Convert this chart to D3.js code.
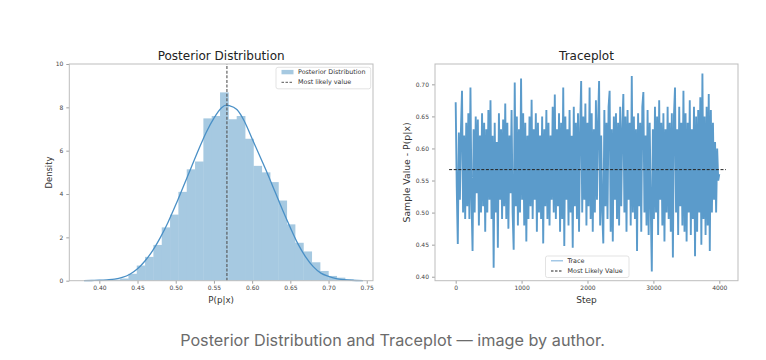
<!DOCTYPE html>
<html><head><meta charset="utf-8">
<script src="https://cdn.jsdelivr.net/npm/d3@7"></script>
<style>
body{margin:0;background:#fff;}
svg{display:block;font-family:"DejaVu Sans",sans-serif;}
</style>
</head><body>
<svg id="c" width="766" height="360"></svg>
<script>
// ---------- DATA ----------
const histBinStart = 0.3836;
const histBinWidth = 0.0109;
const histDensity = [0.02,0.02,0.03,0.05,0.10,0.32,0.70,1.10,1.65,2.46,3.05,4.10,5.14,5.50,7.49,7.60,8.69,
  7.45,7.60,6.55,5.30,5.00,4.55,3.70,2.60,1.75,1.35,0.85,0.45,0.22,0.14,0.06,0.03];
const kdeX = [0.380,0.390,0.400,0.410,0.420,0.430,0.440,0.450,0.460,0.470,0.480,0.490,0.500,0.510,0.520,0.530,
  0.540,0.550,0.560,0.566,0.570,0.580,0.590,0.600,0.610,0.620,0.630,0.640,0.650,0.660,0.670,0.680,0.690,0.700,
  0.710,0.720,0.730,0.745];
const kdeY = [0.00,0.01,0.02,0.04,0.07,0.15,0.30,0.55,0.92,1.40,2.00,2.70,3.50,4.35,5.20,6.05,
  6.85,7.50,7.98,8.10,8.08,7.90,7.35,6.55,5.75,4.95,4.10,3.25,2.45,1.70,1.10,0.65,0.35,0.20,
  0.10,0.05,0.02,0.00];
const modeValue = 0.567;
const traceStep = 16;
const traceValues = [
0.672,0.54,0.451,0.625,0.52,0.63,0.690,0.50,0.62,0.49,
0.64,0.51,0.655,0.49,0.695,0.52,0.440,0.63,0.50,0.65,
0.53,0.645,0.48,0.62,0.50,0.655,0.51,0.64,0.47,0.63,
0.50,0.66,0.52,0.675,0.49,0.62,0.414,0.64,0.50,0.61,
0.445,0.655,0.52,0.63,0.49,0.645,0.51,0.670,0.49,0.64,
0.475,0.62,0.53,0.66,0.50,0.442,0.703,0.51,0.65,0.48,
0.63,0.50,0.709,0.52,0.655,0.48,0.64,0.455,0.62,0.49,
0.65,0.51,0.676,0.49,0.63,0.52,0.655,0.47,0.64,0.50,
0.62,0.49,0.65,0.452,0.63,0.51,0.66,0.49,0.64,0.48,
0.62,0.52,0.665,0.50,0.684,0.49,0.63,0.51,0.655,0.47,
0.64,0.49,0.695,0.448,0.65,0.52,0.63,0.48,0.66,0.50,
0.62,0.445,0.665,0.51,0.64,0.49,0.655,0.47,0.63,0.705,
0.50,0.65,0.52,0.67,0.48,0.64,0.51,0.695,0.49,0.655,
0.47,0.63,0.50,0.675,0.52,0.64,0.705,0.48,0.62,0.50,
0.452,0.66,0.51,0.64,0.49,0.665,0.690,0.47,0.63,0.455,
0.65,0.52,0.655,0.49,0.64,0.48,0.665,0.51,0.63,0.685,
0.50,0.65,0.47,0.66,0.52,0.64,0.48,0.713,0.50,0.65,
0.49,0.63,0.440,0.655,0.51,0.64,0.47,0.665,0.688,0.50,
0.62,0.48,0.66,0.465,0.64,0.51,0.408,0.63,0.49,0.665,
0.50,0.65,0.465,0.675,0.52,0.64,0.48,0.655,0.455,0.63,
0.50,0.665,0.49,0.64,0.47,0.655,0.430,0.65,0.695,0.50,
0.63,0.465,0.665,0.51,0.64,0.48,0.690,0.47,0.655,0.455,
0.64,0.50,0.675,0.465,0.63,0.49,0.665,0.432,0.65,0.47,
0.66,0.50,0.68,0.45,0.717,0.49,0.65,0.465,0.665,0.48,
0.685,0.440,0.66,0.50,0.64,0.52,0.61,0.50,0.60,0.55,
0.56];
const hlineSteps = [-100, 4100];
const leftXTicks = [0.40,0.45,0.50,0.55,0.60,0.65,0.70,0.75];
const leftYTicks = [0,2,4,6,8,10];
const rightXTicks = [0,1000,2000,3000,4000];
const rightYTicks = [0.40,0.45,0.50,0.55,0.60,0.65,0.70];
const titles = ["Posterior Distribution","Traceplot"];
const xLabels = ["P(p|x)","Step"];
const yLabels = ["Density","Sample Value - P(p|x)"];
const legendLeft = ["Posterior Distribution","Most likely value"];
const legendRight = ["Trace","Most Likely Value"];
const caption = "Posterior Distribution and Traceplot \u2014 image by author.";

// ---------- DRAW ----------
const svg = d3.select("#c");
const C0 = "#1f77b4";
const histFill = "#a6c9e1";
const txt = "#333", tickTxt = "#444", frameCol = "#bdbdbd";

function frameAxes(x, y, xt, yt, xf, yf){
  const [x0,x1] = x.range(), [y1,y0] = y.range();
  const g = svg.append("g");
  const ax = g.append("g").attr("transform",`translate(0,${y1})`)
    .call(d3.axisBottom(x).tickValues(xt).tickSize(3).tickPadding(2).tickFormat(xf));
  const ay = g.append("g").attr("transform",`translate(${x0},0)`)
    .call(d3.axisLeft(y).tickValues(yt).tickSize(3).tickPadding(3).tickFormat(yf));
  [ax,ay].forEach(a=>{
    a.select(".domain").remove();
    a.selectAll("line").attr("stroke","#888").attr("stroke-width",0.8);
    a.selectAll("text").attr("fill",tickTxt).style("font-size","6px").style("font-family","DejaVu Sans");
  });
  return g;
}
function frameRect(x,y){
  const [x0,x1] = x.range(), [y1,y0] = y.range();
  svg.append("rect").attr("x",x0).attr("y",y0).attr("width",x1-x0).attr("height",y1-y0)
    .attr("fill","none").attr("stroke",frameCol).attr("stroke-width",1);
}

// Left panel
const xL = d3.scaleLinear().domain([0.3607,0.7582]).range([69.3,373]);
const yL = d3.scaleLinear().domain([0,10]).range([280.7,64]);
const bins = histDensity.map((d,i)=>({x0:histBinStart+i*histBinWidth, x1:histBinStart+(i+1)*histBinWidth, d}));
svg.append("g").selectAll("rect").data(bins).join("rect")
  .attr("x",b=>xL(b.x0)).attr("width",b=>xL(b.x1)-xL(b.x0)+0.4)
  .attr("y",b=>yL(b.d)).attr("height",b=>yL(0)-yL(b.d))
  .attr("fill",histFill);
svg.append("path").datum(kdeX.map((v,i)=>[v,kdeY[i]]))
  .attr("d",d3.line().x(d=>xL(d[0])).y(d=>yL(d[1])).curve(d3.curveMonotoneX))
  .attr("fill","none").attr("stroke","#4a90c6").attr("stroke-width",1.3);
svg.append("line").attr("x1",xL(modeValue)).attr("x2",xL(modeValue)).attr("y1",yL(0)).attr("y2",yL(10))
  .attr("stroke","#555").attr("stroke-width",1.1).attr("stroke-dasharray","3,1.6");
frameAxes(xL,yL,leftXTicks,leftYTicks,d3.format(".2f"),d3.format("d"));
frameRect(xL,yL);

// Right panel
const xR = d3.scaleLinear().domain([-314,4284]).range([435,738]);
const yR = d3.scaleLinear().domain([0.3938,0.7317]).range([280.7,64]);
svg.append("path").datum(traceValues)
  .attr("d",d3.line().x((d,i)=>xR(i*traceStep)).y(d=>yR(d)))
  .attr("fill","none").attr("stroke","#5b9bcb").attr("stroke-width",1.9)
  .attr("stroke-linejoin","bevel");
svg.append("line").attr("x1",xR(hlineSteps[0])).attr("x2",xR(hlineSteps[1]))
  .attr("y1",yR(modeValue)).attr("y2",yR(modeValue))
  .attr("stroke","#222").attr("stroke-width",1).attr("stroke-dasharray","3,1.6");
frameAxes(xR,yR,rightXTicks,rightYTicks,d3.format("d"),d3.format(".2f"));
frameRect(xR,yR);

// Titles and labels
const panels = [[xL,yL,49],[xR,yR,406.7]];
panels.forEach(([x,y,ylx],i)=>{
  const cx = (x.range()[0]+x.range()[1])/2;
  svg.append("text").attr("x",cx).attr("y",56).attr("text-anchor","middle").attr("dominant-baseline","central")
    .attr("fill","#222").style("font-size","12px").text(titles[i]);
  svg.append("text").attr("x",cx).attr("y",299.5).attr("text-anchor","middle").attr("dominant-baseline","central")
    .attr("fill",txt).style("font-size", i?"9px":"8.7px").text(xLabels[i]);
  svg.append("text").attr("transform",`translate(${ylx},172.5) rotate(-90)`).attr("text-anchor","middle")
    .attr("dominant-baseline","central").attr("fill",txt).style("font-size", i?"9.3px":"8.4px").text(yLabels[i]);
});

// Legends
function legend(bx,by,bw,bh,rows){
  const g = svg.append("g");
  g.append("rect").attr("x",bx).attr("y",by).attr("width",bw).attr("height",bh).attr("rx",2)
    .attr("fill","#fff").attr("fill-opacity",0.8).attr("stroke","#dcdcdc").attr("stroke-width",0.8);
  rows.forEach((r,i)=>{
    const yy = by + 4.6 + i*10.2 + 0.2;
    if(r.type==="patch"){
      g.append("rect").attr("x",bx+5.5).attr("y",yy-2.2).attr("width",12).attr("height",4.4)
        .attr("fill",histFill);
    } else {
      g.append("line").attr("x1",bx+5.5).attr("x2",bx+17.5).attr("y1",yy).attr("y2",yy)
        .attr("stroke",r.color).attr("stroke-opacity",r.op||1).attr("stroke-width",r.w||1)
        .attr("stroke-dasharray",r.dash||null);
    }
    g.append("text").attr("x",bx+22).attr("y",yy).attr("dominant-baseline","central")
      .attr("fill",txt).style("font-size","6.4px").text(r.label);
  });
}
legend(276,67.3,94.7,21.5,[
  {type:"patch",label:legendLeft[0]},
  {type:"line",label:legendLeft[1],color:"#555",dash:"2.5,1.5",w:1}
]);
legend(545.5,256,83.5,21.5,[
  {type:"line",label:legendRight[0],color:"#8dbbe0",w:1.2},
  {type:"line",label:legendRight[1],color:"#222",dash:"2.5,1.5",w:1}
]);

// Caption
const cap = svg.append("text").attr("x",392.5).attr("y",339.5).attr("text-anchor","middle")
  .attr("dominant-baseline","central").attr("fill","#6b6b6b")
  .style("font-family","Inter, 'Noto Sans', sans-serif").style("font-size","15px").text(caption);
const w = cap.node().getComputedTextLength();
cap.style("font-size", (15*425/w).toFixed(2)+"px");
</script>
</body></html>
